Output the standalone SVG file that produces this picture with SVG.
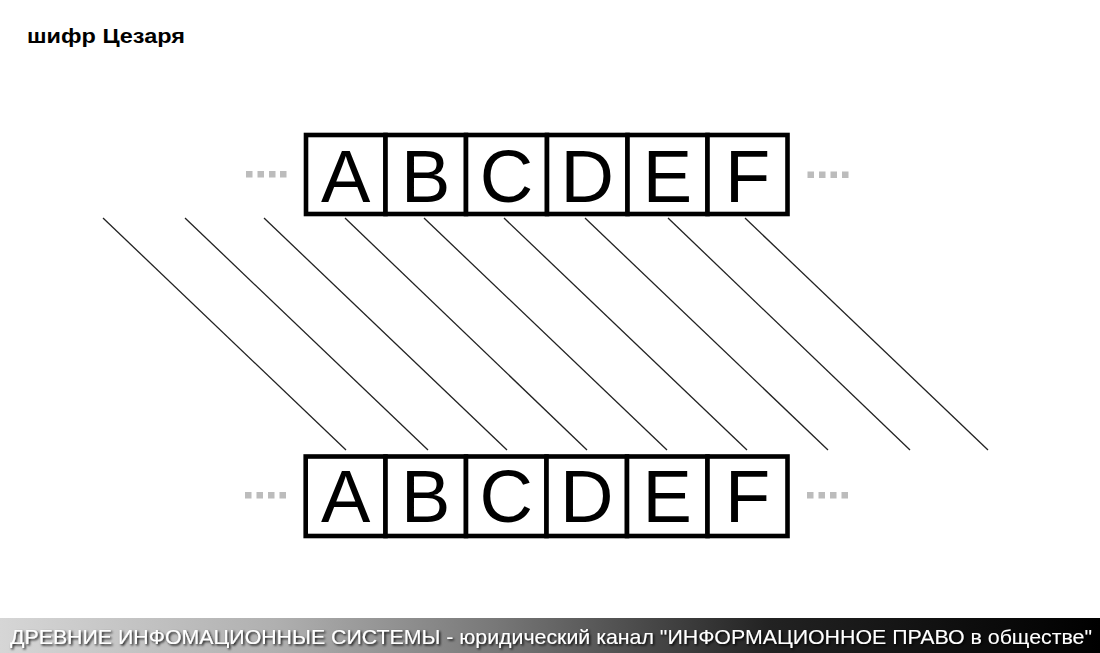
<svg xmlns="http://www.w3.org/2000/svg" width="1100" height="653" viewBox="0 0 1100 653">
<defs>
<style>
.cell{fill:#fff;stroke:#000;stroke-width:4.6}
.let{font-family:"Liberation Sans",Arial,sans-serif;font-size:74px;fill:#000;text-anchor:middle}
.dot{fill:#bcbcbc}
.conn{stroke:#222;stroke-width:1.3;fill:none}
.title{font-family:"Liberation Sans",Arial,sans-serif;font-size:21px;font-weight:bold;fill:#000}
.foot{font-family:"Liberation Sans",Arial,sans-serif;font-size:21px;fill:#fff}
</style>
<linearGradient id="band" x1="0" y1="0" x2="1" y2="0">
<stop offset="0" stop-color="#d6d6d6"/>
<stop offset="0.25" stop-color="#b0b0b0"/>
<stop offset="0.45" stop-color="#787878"/>
<stop offset="0.7" stop-color="#222"/>
<stop offset="1" stop-color="#000"/>
</linearGradient>
<filter id="sh" x="-5%" y="-50%" width="110%" height="200%">
<feDropShadow dx="1.5" dy="1.5" stdDeviation="1" flood-color="#000" flood-opacity="0.9"/>
</filter>
</defs>
<rect width="1100" height="653" fill="#fff"/>
<text class="title" x="27" y="43" textLength="158" lengthAdjust="spacingAndGlyphs">шифр Цезаря</text>

<g id="connectors">
<line class="conn" x1="103" y1="218" x2="346" y2="450"/>
<line class="conn" x1="185" y1="218" x2="428" y2="450"/>
<line class="conn" x1="264" y1="218" x2="507" y2="450"/>
<line class="conn" x1="345" y1="218" x2="587" y2="450"/>
<line class="conn" x1="424" y1="218" x2="667" y2="450"/>
<line class="conn" x1="504" y1="218" x2="747" y2="450"/>
<line class="conn" x1="585" y1="218" x2="828" y2="450"/>
<line class="conn" x1="668" y1="218" x2="910" y2="450"/>
<line class="conn" x1="745" y1="218" x2="988" y2="450"/>
</g>

<g id="top-dots-left"><rect class="dot" x="246" y="171" width="6.5" height="6.5"/><rect class="dot" x="257.5" y="171" width="6.5" height="6.5"/><rect class="dot" x="269" y="171" width="6.5" height="6.5"/><rect class="dot" x="280" y="171" width="6.5" height="6.5"/></g>
<g id="top-dots-right"><rect class="dot" x="807.5" y="171.5" width="6.5" height="6.5"/><rect class="dot" x="819" y="171.5" width="6.5" height="6.5"/><rect class="dot" x="830.5" y="171.5" width="6.5" height="6.5"/><rect class="dot" x="842" y="171.5" width="6.5" height="6.5"/></g>
<g id="bot-dots-left"><rect class="dot" x="245" y="492" width="6.5" height="6.5"/><rect class="dot" x="256.5" y="492" width="6.5" height="6.5"/><rect class="dot" x="268" y="492" width="6.5" height="6.5"/><rect class="dot" x="279.5" y="492" width="6.5" height="6.5"/></g>
<g id="bot-dots-right"><rect class="dot" x="807" y="492" width="6.5" height="6.5"/><rect class="dot" x="818.5" y="492" width="6.5" height="6.5"/><rect class="dot" x="830" y="492" width="6.5" height="6.5"/><rect class="dot" x="841.5" y="492" width="6.5" height="6.5"/></g>

<g id="top-A"><rect class="cell" x="306" y="135" width="79.5" height="79"/><text class="let" x="345.7" y="201.5">A</text></g>
<g id="top-B"><rect class="cell" x="385.5" y="135" width="80.5" height="79"/><text class="let" x="425.7" y="201.5">B</text></g>
<g id="top-C"><rect class="cell" x="466" y="135" width="81" height="79"/><text class="let" x="506.5" y="201.5">C</text></g>
<g id="top-D"><rect class="cell" x="547" y="135" width="80.5" height="79"/><text class="let" x="587.2" y="201.5">D</text></g>
<g id="top-E"><rect class="cell" x="627.5" y="135" width="80" height="79"/><text class="let" x="667.5" y="201.5">E</text></g>
<g id="top-F"><rect class="cell" x="707.5" y="135" width="80" height="79"/><text class="let" x="747.5" y="201.5">F</text></g>

<g id="bot-A"><rect class="cell" x="305.7" y="456.5" width="79.8" height="79.5"/><text class="let" x="345.7" y="522">A</text></g>
<g id="bot-B"><rect class="cell" x="385.5" y="456.5" width="80.5" height="79.5"/><text class="let" x="425.7" y="522">B</text></g>
<g id="bot-C"><rect class="cell" x="466" y="456.5" width="80.5" height="79.5"/><text class="let" x="506.3" y="522">C</text></g>
<g id="bot-D"><rect class="cell" x="546.5" y="456.5" width="80.5" height="79.5"/><text class="let" x="586.8" y="522">D</text></g>
<g id="bot-E"><rect class="cell" x="627" y="456.5" width="80.5" height="79.5"/><text class="let" x="667.2" y="522">E</text></g>
<g id="bot-F"><rect class="cell" x="707.5" y="456.5" width="80" height="79.5"/><text class="let" x="747.5" y="522">F</text></g>

<g id="footer">
<rect x="0" y="618" width="1100" height="35" fill="url(#band)"/>
<text class="foot" x="10" y="644" textLength="1082" lengthAdjust="spacingAndGlyphs" filter="url(#sh)">ДРЕВНИЕ ИНФОМАЦИОННЫЕ СИСТЕМЫ - юридический канал "ИНФОРМАЦИОННОЕ ПРАВО в обществе"</text>
</g>
</svg>
